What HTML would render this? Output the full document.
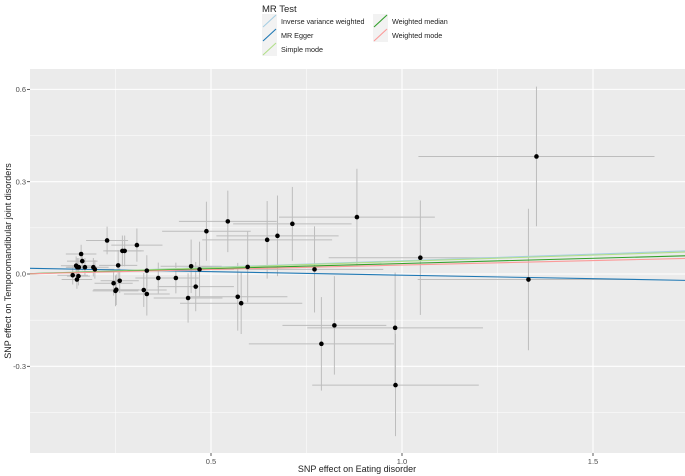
<!DOCTYPE html>
<html><head><meta charset="utf-8">
<style>
body{margin:0;background:#fff;}
svg{display:block;font-family:"Liberation Sans",sans-serif;}
</style></head>
<body>
<svg id="chart" width="685" height="476">
  <g id="legend">
    <text x="262" y="12" font-size="9.5" fill="#222">MR Test</text>
  </g>
  <rect x="30" y="69" width="655" height="384" fill="#ebebeb"/>
  <g id="grid"></g>
  <g id="bars"></g>
  <g id="lines"></g>
  <g id="pts"></g>
  <g id="axes"></g>
  <text x="357" y="472" font-size="9" fill="#222" text-anchor="middle">SNP effect on Eating disorder</text>
  <text transform="translate(11,261) rotate(-90)" font-size="9" fill="#222" text-anchor="middle">SNP effect on Temporomandibular joint disorders</text>
</svg>
<script>
const snpX=[.138,.147,.150,.154,.149,.153,.160,.163,.170,.192,.196,.228,.245,.250,.252,.257,.261,.268,.274,.306,.324,.332,.332,.362,.408,.440,.448,.460,.47,.488,.544,.570,.579,.596,.647,.674,.713,.771,.882,.789,.823,.982,.983,1.048,1.331,1.352];
const snpY=[-.004,.027,.022,.022,-.018,-.007,.065,.042,.022,.022,.015,.109,-.030,-.055,-.051,.028,-.022,.075,.075,.094,-.052,-.065,.011,-.013,-.013,-.078,.025,-.041,.015,.139,.171,-.074,-.095,.023,.111,.124,.163,.015,.185,-.227,-.167,-.175,-.361,.053,-.018,.382];
const seX=[.04,.04,.03,.03,.04,.03,.04,.04,.03,.04,.05,.055,.05,.06,.06,.05,.05,.05,.05,.067,.06,.06,.05,.06,.06,.09,.08,.1,.09,.116,.128,.13,.16,.12,.17,.16,.155,.18,.204,.19,.136,.23,.218,.24,.29,.309];
const seY=[.03,.03,.03,.03,.03,.03,.03,.03,.03,.03,.03,.045,.04,.05,.05,.05,.04,.05,.05,.054,.055,.07,.05,.05,.05,.08,.087,.08,.09,.096,.10,.11,.10,.115,.126,.131,.12,.14,.157,.152,.16,.18,.166,.186,.23,.227];
const methods=["Inverse variance weighted","MR Egger","Simple mode","Weighted median","Weighted mode"];
const slopes=[0.043,-0.0228,0.041,0.034,0.029];
const intercepts=[0,0.019,0,0,0];
const colors=["#a6cee3","#1f78b4","#b2df8a","#33a02c","#fb9a99"];
const xTicks=[0.5,1.0,1.5], xTickLabels=["0.5","1.0","1.5"];
const yTicks=[-0.3,0,0.3,0.6], yTickLabels=["-0.3","0.0","0.3","0.6"];
const xMinor=[0.25,0.75,1.25], yMinor=[-0.45,-0.15,0.15,0.45];

const L=30,R=685,T=69,B=453;
const sx=v=>20+382*v, sy=v=>274-307.7*v;
const NS="http://www.w3.org/2000/svg";
function mk(p,t,a){const e=document.createElementNS(NS,t);for(const k in a)e.setAttribute(k,a[k]);document.getElementById(p).appendChild(e);return e;}
xMinor.forEach(v=>{const e=mk('grid','line',{x1:sx(v),x2:sx(v),y1:T,y2:B,stroke:'#fff','stroke-width':0.5});

});
yMinor.forEach(v=>{const e=mk('grid','line',{x1:L,x2:R,y1:sy(v),y2:sy(v),stroke:'#fff','stroke-width':0.5});

});
xTicks.forEach((v,i)=>{const e=mk('grid','line',{x1:sx(v),x2:sx(v),y1:T,y2:B,stroke:'#fff','stroke-width':1.1});


const t=mk('axes','line',{x1:sx(v),x2:sx(v),y1:B,y2:B+3,stroke:'#333','stroke-width':0.8});


const l=mk('axes','text',{x:sx(v),y:B+11,'font-size':7.5,fill:'#4d4d4d','text-anchor':'middle'});l.textContent=xTickLabels[i];

});
yTicks.forEach((v,i)=>{const e=mk('grid','line',{x1:L,x2:R,y1:sy(v),y2:sy(v),stroke:'#fff','stroke-width':1.1});


const t=mk('axes','line',{x1:L-3,x2:L,y1:sy(v),y2:sy(v),stroke:'#333','stroke-width':0.8});


const l=mk('axes','text',{x:L-4,y:sy(v)+2.7,'font-size':7.5,fill:'#4d4d4d','text-anchor':'end'});l.textContent=yTickLabels[i];

});
snpX.forEach((x,i)=>{const y=snpY[i];
const h=mk('bars','line',{x1:Math.max(L,sx(x-seX[i])),x2:Math.min(R,sx(x+seX[i])),y1:sy(y),y2:sy(y),stroke:'#bdbdbd','stroke-width':1});


const v=mk('bars','line',{x1:sx(x),x2:sx(x),y1:sy(y-seY[i]),y2:sy(y+seY[i]),stroke:'#bdbdbd','stroke-width':1});


const p=mk('pts','circle',{cx:sx(x),cy:sy(y),r:2.3,fill:'#000'});

});
const x0=(L-20)/382,x1=(R-20)/382;
methods.forEach((m,i)=>{const e=mk('lines','line',{x1:L,x2:R,y1:sy(intercepts[i]+slopes[i]*x0),y2:sy(intercepts[i]+slopes[i]*x1),stroke:colors[i],'stroke-width':1.1});

});
const pos=[[262,14],[262,28],[262,42],[373,14],[373,28]];
methods.forEach((m,i)=>{const [kx,ky]=pos[i];
const b=mk('legend','rect',{x:kx,y:ky,width:15,height:14,fill:'#f2f2f2'});


const l=mk('legend','line',{x1:kx+1,y1:ky+13,x2:kx+14,y2:ky+1,stroke:colors[i],'stroke-width':1.1});


const t=mk('legend','text',{x:kx+19,y:ky+10,'font-size':7.2,fill:'#222'});t.textContent=m;

});
</script>
</body></html>
